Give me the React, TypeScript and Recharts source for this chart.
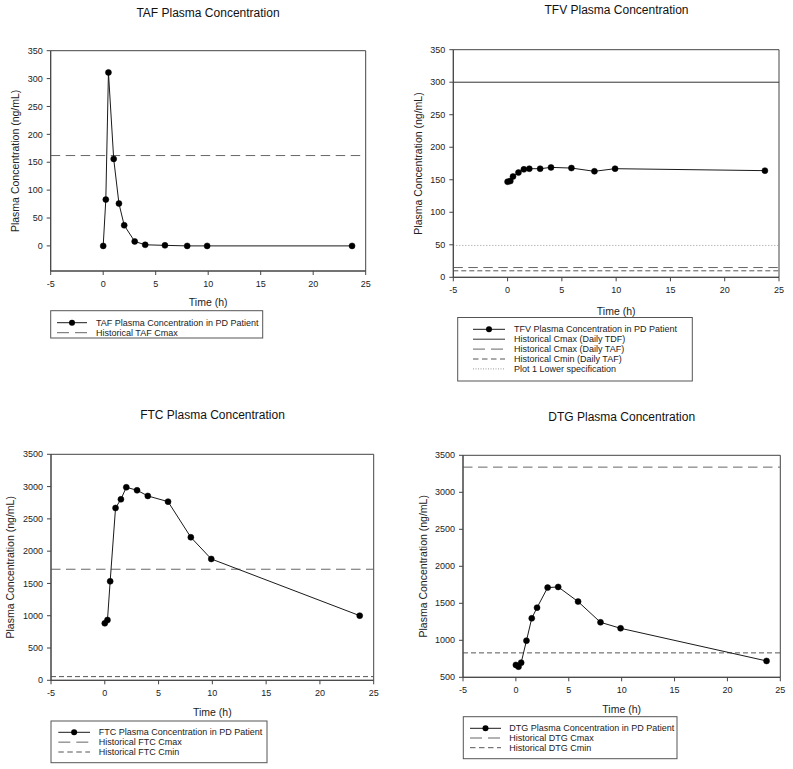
import React from 'react';
import { LineChart, Line, XAxis, YAxis, ReferenceLine, ReferenceArea } from 'recharts';

const FONT = '"Liberation Sans", Arial, Helvetica, sans-serif';

// ---- data ----
const TIME = [0, 0.25, 0.5, 1, 1.5, 2, 3, 4, 5.88, 8, 9.9, 23.7];
const TAF_VALUES = [0, 83, 311, 156, 76, 37, 8, 2, 1, 0, 0, 0];
const TFV_VALUES = [147, 148, 155, 161, 166, 167, 167, 169, 168, 163, 167, 164];
const FTC_VALUES = [883, 934, 1533, 2669, 2803, 2989, 2943, 2855, 2767, 2215, 1879, 1001];
const DTG_VALUES = [667, 644, 698, 995, 1297, 1441, 1712, 1721, 1523, 1243, 1162, 721];

const X_TICKS = [-5, 0, 5, 10, 15, 20, 25];
const TAF_Y_TICKS = [0, 50, 100, 150, 200, 250, 300, 350];
const TFV_Y_TICKS = [0, 50, 100, 150, 200, 250, 300, 350];
const FTC_Y_TICKS = [0, 500, 1000, 1500, 2000, 2500, 3000, 3500];
const DTG_Y_TICKS = [500, 1000, 1500, 2000, 2500, 3000, 3500];

const TAF_REFS = [162];
const TFV_REFS = [300, 15, 10, 49];
const FTC_REFS = [1720, 57];
const DTG_REFS = [3340, 830];

const TITLES = ['TAF Plasma Concentration', 'TFV Plasma Concentration', 'FTC Plasma Concentration', 'DTG Plasma Concentration'];
const X_LABEL = 'Time (h)';
const Y_LABEL = 'Plasma Concentration (ng/mL)';

const TAF_LEGEND = ['TAF Plasma Concentration in PD Patient', 'Historical TAF Cmax'];
const TFV_LEGEND = [
  'TFV Plasma Concentration in PD Patient',
  'Historical Cmax (Daily TDF)',
  'Historical Cmax (Daily TAF)',
  'Historical Cmin (Daily TAF)',
  'Plot 1 Lower specification',
];
const FTC_LEGEND = ['FTC Plasma Concentration in PD Patient', 'Historical FTC Cmax', 'Historical FTC Cmin'];
const DTG_LEGEND = ['DTG Plasma Concentration in PD Patient', 'Historical DTG Cmax', 'Historical DTG Cmin'];

// ---- styles ----
type Kind = 'series' | 'solid' | 'long' | 'short' | 'dotted';
const KIND_STYLE: Record<Kind, { color: string; dash?: string; legendDash?: string }> = {
  series: { color: '#1a1a1a' },
  solid: { color: '#333' },
  long: { color: '#666', dash: '9.5 5.5', legendDash: '12 6' },
  short: { color: '#555', dash: '5 3', legendDash: '5.5 3.5' },
  dotted: { color: '#999', dash: '1 2', legendDash: '1 1.5' },
};
const AXIS_COLOR = '#444';
const TEXT_COLOR = '#222';

type PanelSpec = {
  left: number; top: number; width: number; height: number;
  mt: number; mr: number; mb: number; yw: number; xh: number; yLabelX: number;
  yDomain: [number, number]; yTicks: number[];
  values: number[];
  refs: number[]; refKinds: Kind[];
};

const PANELS: PanelSpec[] = [
  { left: 0, top: 0, width: 396, height: 390, mt: 50.7, mr: 30.3, mb: 84.2, yw: 50.7, xh: 34.8, yLabelX: 15,
    yDomain: [-45, 350], yTicks: TAF_Y_TICKS, values: TAF_VALUES, refs: TAF_REFS, refKinds: ['long'] },
  { left: 396, top: 0, width: 397, height: 390, mt: 49.7, mr: 14, mb: 75.2, yw: 57.3, xh: 37.5, yLabelX: 22.3,
    yDomain: [0, 350], yTicks: TFV_Y_TICKS, values: TFV_VALUES, refs: TFV_REFS, refKinds: ['solid', 'long', 'short', 'dotted'] },
  { left: 0, top: 390, width: 396, height: 379, mt: 64.3, mr: 22.3, mb: 53.2, yw: 51, xh: 35.5, yLabelX: 10,
    yDomain: [0, 3500], yTicks: FTC_Y_TICKS, values: FTC_VALUES, refs: FTC_REFS, refKinds: ['long', 'short'] },
  { left: 396, top: 390, width: 397, height: 379, mt: 65.3, mr: 12.7, mb: 56.5, yw: 67, xh: 35.2, yLabelX: 27.3,
    yDomain: [500, 3500], yTicks: DTG_Y_TICKS, values: DTG_VALUES, refs: DTG_REFS, refKinds: ['long', 'short'] },
];

const TITLE_POS = [
  { x: 208, y: 16.6 },
  { x: 616.5, y: 14.3 },
  { x: 212.5, y: 419.3 },
  { x: 621.7, y: 421 },
];

type LegendSpec = {
  x: number; y: number; w: number; h: number; row0: number; step: number;
  lx1: number; lx2: number; tx: number; labels: string[]; kinds: Kind[];
};

const LEGENDS: LegendSpec[] = [
  { x: 50.7, y: 310.7, w: 212, h: 27.3, row0: 322.7, step: 10, lx1: 57, lx2: 87, tx: 96,
    labels: TAF_LEGEND, kinds: ['series', 'long'] },
  { x: 457.7, y: 317.5, w: 234.6, h: 63.5, row0: 329.3, step: 9.9, lx1: 473, lx2: 505, tx: 514,
    labels: TFV_LEGEND, kinds: ['series', 'solid', 'long', 'short', 'dotted'] },
  { x: 51, y: 721, w: 216, h: 41.7, row0: 732.3, step: 9.85, lx1: 58.3, lx2: 90, tx: 98.7,
    labels: FTC_LEGEND, kinds: ['series', 'long', 'short'] },
  { x: 463.3, y: 716.7, w: 213.7, h: 42, row0: 728.3, step: 9.7, lx1: 470, lx2: 501, tx: 509.3,
    labels: DTG_LEGEND, kinds: ['series', 'long', 'short'] },
];

function Panel({ p }: { p: PanelSpec }) {
  const data = TIME.map((t, i) => ({ t, v: p.values[i] }));
  return (
    <div style={{ position: 'absolute', left: p.left, top: p.top }}>
      <LineChart width={p.width} height={p.height} data={data}
        margin={{ top: p.mt, right: p.mr, bottom: p.mb, left: 0 }}>
        <XAxis dataKey="t" type="number" domain={[-5, 25]} ticks={X_TICKS} interval={0}
          allowDataOverflow height={p.xh} tickSize={4} tickMargin={5.5}
          axisLine={{ stroke: AXIS_COLOR }} tickLine={{ stroke: AXIS_COLOR }}
          tick={{ fontSize: 9, fill: TEXT_COLOR, fontFamily: FONT }}
          label={{ value: X_LABEL, position: 'insideBottom', offset: 0, fontSize: 10.5, fill: TEXT_COLOR, fontFamily: FONT }} />
        <YAxis type="number" domain={p.yDomain} ticks={p.yTicks} interval={0} allowDataOverflow
          width={p.yw} tickSize={4} tickMargin={4}
          axisLine={{ stroke: AXIS_COLOR }} tickLine={{ stroke: AXIS_COLOR }}
          tick={{ fontSize: 9, fill: TEXT_COLOR, fontFamily: FONT }}
          label={{ value: Y_LABEL, angle: -90, position: 'insideLeft', offset: p.yLabelX, fontSize: 10.5,
            fill: TEXT_COLOR, fontFamily: FONT, style: { textAnchor: 'middle' } }} />
        {p.refs.map((r, i) => {
          const s = KIND_STYLE[p.refKinds[i]];
          return <ReferenceLine key={i} y={r} stroke={s.color} strokeWidth={1} strokeDasharray={s.dash} />;
        })}
        <ReferenceArea x1={-5} x2={25} y1={p.yDomain[0]} y2={p.yDomain[1]} fill="none" fillOpacity={0}
          stroke={AXIS_COLOR} strokeWidth={1} />
        <Line dataKey="v" type="linear" stroke={KIND_STYLE.series.color} strokeWidth={1}
          dot={{ r: 3, fill: '#000', stroke: '#000', strokeWidth: 0.5 }} isAnimationActive={false} />
      </LineChart>
    </div>
  );
}

function LegendBox({ l }: { l: LegendSpec }) {
  return (
    <g>
      <rect x={l.x} y={l.y} width={l.w} height={l.h} fill="#fff" stroke="#555" strokeWidth={1} />
      {l.labels.map((label, i) => {
        const y = l.row0 + i * l.step;
        const k = l.kinds[i];
        const s = KIND_STYLE[k];
        return (
          <g key={i}>
            <line x1={l.lx1} x2={l.lx2} y1={y} y2={y} stroke={s.color} strokeWidth={1}
              strokeDasharray={s.legendDash} />
            {k === 'series' && <circle cx={(l.lx1 + l.lx2) / 2} cy={y} r={3} fill="#000" />}
            <text x={l.tx} y={y} dominantBaseline="central" fontSize={9} fill={TEXT_COLOR} fontFamily={FONT}>{label}</text>
          </g>
        );
      })}
    </g>
  );
}

export default function App() {
  return (
    <div style={{ position: 'absolute', left: 0, top: 0, width: 793, height: 769, background: '#fff', fontFamily: FONT }}>
      {PANELS.map((p, i) => <Panel key={i} p={p} />)}
      <svg width={793} height={769} style={{ position: 'absolute', left: 0, top: 0, pointerEvents: 'none' }}>
        {TITLES.map((t, i) => (
          <text key={i} x={TITLE_POS[i].x} y={TITLE_POS[i].y} textAnchor="middle" fontSize={12}
            fill="#111" fontFamily={FONT}>{t}</text>
        ))}
        {LEGENDS.map((l, i) => <LegendBox key={i} l={l} />)}
      </svg>
    </div>
  );
}
